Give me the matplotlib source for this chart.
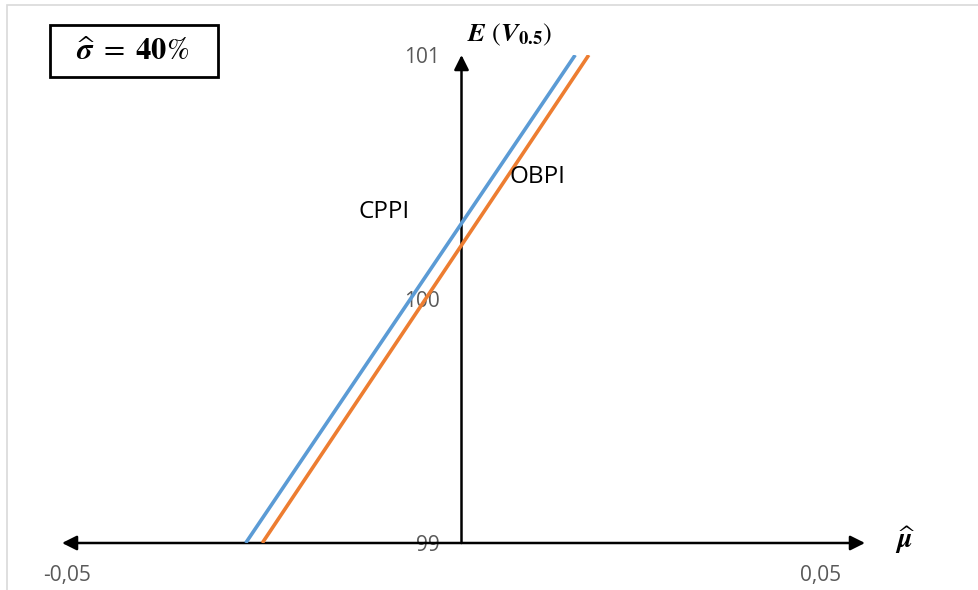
import matplotlib
matplotlib.use("Agg")
import matplotlib.pyplot as plt
from matplotlib.patches import Rectangle

plt.rcParams['font.family'] = ['Open Sans', 'DejaVu Sans']
plt.rcParams['mathtext.fontset'] = 'stix'

# Data
mu_cppi = [-0.0263, 0.0174]
e_cppi = [99.0, 101.0]
mu_obpi = [-0.0241, 0.0192]
e_obpi = [99.0, 101.0]
x_ticks = [-0.05, 0.05]
x_ticklabels = ['-0,05', '0,05']
y_ticks = [99, 100, 101]
y_ticklabels = ['99', '100', '101']

W, H = 979, 590
fig = plt.figure(figsize=(W / 100, H / 100), dpi=100)

# outer chart frame
fig.patches.append(Rectangle((7 / W, -0.1), 1.2, (H - 5) / H + 0.1, transform=fig.transFigure,
                             fill=False, edgecolor='#d9d9d9', linewidth=1.2))

ax = fig.add_axes([67 / W, (H - 543) / H, (821 - 67) / W, (543 - 55) / H])
ax.set_xlim(-0.05, 0.05)
ax.set_ylim(99, 101)

ax.plot(mu_cppi, e_cppi, color='#5b9bd5', linewidth=2.6, solid_capstyle='butt', zorder=3)
ax.plot(mu_obpi, e_obpi, color='#ed7d31', linewidth=2.6, solid_capstyle='butt', zorder=3)

for s in ['top', 'right']:
    ax.spines[s].set_visible(False)
ax.spines['left'].set_position(('data', 0.0))
ax.spines['left'].set_visible(False)
ax.spines['bottom'].set_visible(False)

ax.set_xticks(x_ticks)
ax.set_xticklabels(x_ticklabels)
ax.set_yticks(y_ticks)
ax.set_yticklabels(y_ticklabels)
ax.tick_params(axis='x', length=0, pad=16, labelsize=15, labelcolor='#595959')
ax.tick_params(axis='y', length=0, pad=3, labelsize=15, labelcolor='#595959')

# drawn arrow axes
x_arrow = -0.05 + (461.5 - 67) / 7540
ax.annotate('', xy=(-0.05 - 5 / 7540, 99), xytext=(-0.05 + 798 / 7540, 99),
            arrowprops=dict(arrowstyle='<|-|>', color='black', lw=1.8,
                            mutation_scale=22, shrinkA=0, shrinkB=0),
            annotation_clip=False, zorder=2)
ax.annotate('', xy=(x_arrow, 101), xytext=(x_arrow, 99),
            arrowprops=dict(arrowstyle='-|>', color='black', lw=1.8,
                            mutation_scale=22, shrinkA=0, shrinkB=0),
            annotation_clip=False, zorder=2)

# series labels
fig.text(384 / W, 1 - 212 / H, 'CPPI', fontsize=17.5, ha='center', va='center', color='black')
fig.text(537 / W, 1 - 177 / H, 'OBPI', fontsize=17.5, ha='center', va='center', color='black')

# axis titles
fig.text(510 / W, 1 - 35 / H, r'$\mathbfit{E}\ (\mathbfit{V}_{\mathbf{0.5}})$',
         fontsize=19, ha='center', va='center')
fig.text(905 / W, 1 - 540 / H, r'$\widehat{\mathbfit{\mu}}$',
         fontsize=20, ha='center', va='center')

# sigma box
fig.patches.append(Rectangle((50 / W, 1 - 77 / H), 168 / W, 52 / H, transform=fig.transFigure,
                             fill=False, edgecolor='black', linewidth=2))
fig.text(133 / W, 1 - 52 / H, r'$\widehat{\mathbfit{\sigma}}\ =\ \mathbf{40}\%$',
         fontsize=22, ha='center', va='center')

fig.savefig('out.png', dpi=100)
